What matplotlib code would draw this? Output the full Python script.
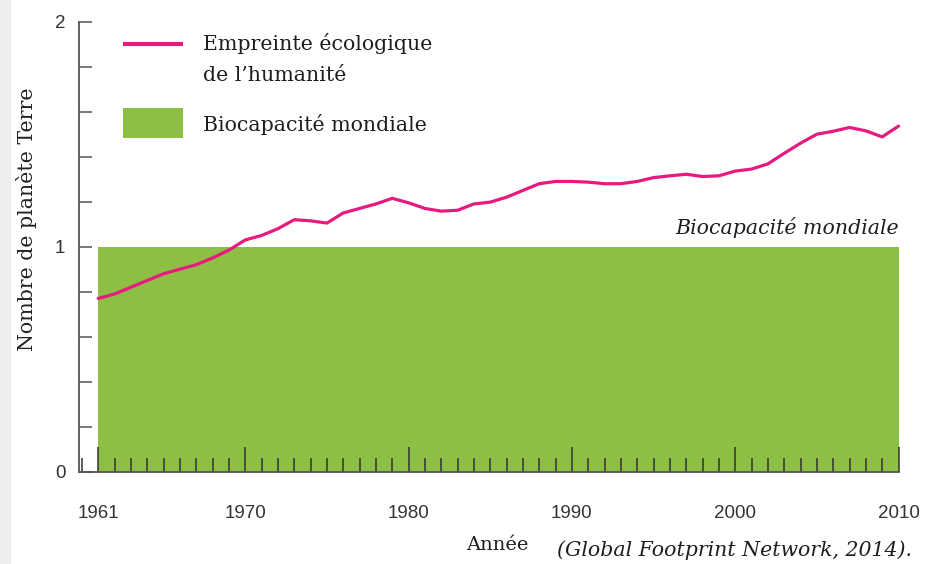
import matplotlib
matplotlib.use("Agg")
import matplotlib.pyplot as plt
from matplotlib.patches import Rectangle
from matplotlib.lines import Line2D
from matplotlib.ticker import MultipleLocator, FixedLocator

# ---------------- data ----------------
years = list(range(1961, 2011))
empreinte = [0.77, 0.79, 0.82, 0.85, 0.88, 0.90, 0.92, 0.95, 0.985, 1.03,
             1.05, 1.08, 1.12, 1.115, 1.105, 1.15, 1.17, 1.19, 1.215, 1.195,
             1.17, 1.158, 1.162, 1.19, 1.198, 1.22, 1.25, 1.28, 1.29, 1.29,
             1.287, 1.28, 1.28, 1.29, 1.307, 1.315, 1.322, 1.312, 1.315, 1.336,
             1.345, 1.368, 1.415, 1.46, 1.50, 1.513, 1.53, 1.515, 1.488, 1.536]
biocapacite = 1.0
xticks_major = [1961, 1970, 1980, 1990, 2000, 2010]
yticks_major = [0, 1, 2]

PINK = "#e8197f"
GREEN = "#8cbf44"

W, H = 925, 564
fig = plt.figure(figsize=(W / 100, H / 100), dpi=100)
fig.patch.set_facecolor("white")

def fx(px):
    return px / W

def fy(py):
    return 1 - py / H

# grey strip on the left edge
fig.patches.append(Rectangle((0, 0), fx(11), 1, transform=fig.transFigure,
                             facecolor="#ededed", edgecolor="none", zorder=0))

ax_l, ax_r, ax_t, ax_b = 79.3, 898.5, 21.7, 471.7
ax = fig.add_axes([fx(ax_l), fy(ax_b), fx(ax_r - ax_l), (ax_b - ax_t) / H])
ax.set_facecolor("none")

scale = (ax_r - 98.3) / (years[-1] - years[0])
ax.set_xlim(years[0] - (98.3 - ax_l) / scale, years[-1])
ax.set_ylim(0, 2)

# biocapacity area
ax.fill_between([years[0], years[-1]], 0, biocapacite, color=GREEN,
                linewidth=0, zorder=1)
# footprint line
ax.plot(years, empreinte, color=PINK, lw=2.3, zorder=4, clip_on=False,
        solid_joinstyle="round", solid_capstyle="round")

for s in ["top", "right"]:
    ax.spines[s].set_visible(False)
for s in ["left", "bottom"]:
    ax.spines[s].set_color("#555555")
    ax.spines[s].set_linewidth(1.3)

ax.xaxis.set_major_locator(FixedLocator(xticks_major))
ax.xaxis.set_minor_locator(MultipleLocator(1))
ax.yaxis.set_major_locator(FixedLocator(yticks_major))
ax.yaxis.set_minor_locator(MultipleLocator(0.2))

ax.tick_params(axis="x", which="major", direction="in", length=18, width=1.1,
               color="#333333", pad=24, labelsize=13.5, labelcolor="#333333")
ax.tick_params(axis="x", which="minor", direction="in", length=10, width=1.1,
               color="#333333")
ax.tick_params(axis="y", which="both", direction="in", length=9.4, width=1.1,
               color="#555555")
ax.tick_params(axis="y", which="major", pad=10, labelsize=13.5,
               labelcolor="#333333")
for lab in ax.get_xticklabels() + ax.get_yticklabels():
    lab.set_family(["Liberation Sans", "DejaVu Sans"])

serif = ["DejaVu Serif"]

# y label
fig.text(fx(27), fy(219), "Nombre de planète Terre", rotation=90,
         ha="center", va="center", fontsize=14.8, family=serif, color="#222222")

# legend (manual)
fig.add_artist(Line2D([fx(123), fx(183)], [fy(44), fy(44)], color=PINK,
                      lw=3, transform=fig.transFigure, solid_capstyle="butt"))
fig.patches.append(Rectangle((fx(123), fy(138)), fx(60), (138 - 108) / H,
                             transform=fig.transFigure, facecolor=GREEN,
                             edgecolor="none"))
fig.text(fx(203), fy(50), "Empreinte écologique", ha="left", va="baseline",
         fontsize=14.8, family=serif, color="#1e1e1e")
fig.text(fx(203), fy(81), "de l’humanité", ha="left", va="baseline",
         fontsize=14.8, family=serif, color="#1e1e1e")
fig.text(fx(203), fy(131), "Biocapacité mondiale", ha="left", va="baseline",
         fontsize=14.8, family=serif, color="#1e1e1e")

# in-chart label
ax.text(years[-1], biocapacite + 0.055, "Biocapacité mondiale", ha="right",
        va="baseline", fontsize=14.8, family=serif, style="italic",
        color="#1e1e1e")

# axis title and source
fig.text(fx(497), fy(550), "Année", ha="center", va="baseline",
         fontsize=14, family=serif, color="#1e1e1e")
fig.text(fx(557), fy(556), "(Global Footprint Network, 2014).", ha="left",
         va="baseline", fontsize=14.8, family=serif, style="italic",
         color="#1e1e1e")

fig.savefig("out.png", dpi=100, facecolor="white")
